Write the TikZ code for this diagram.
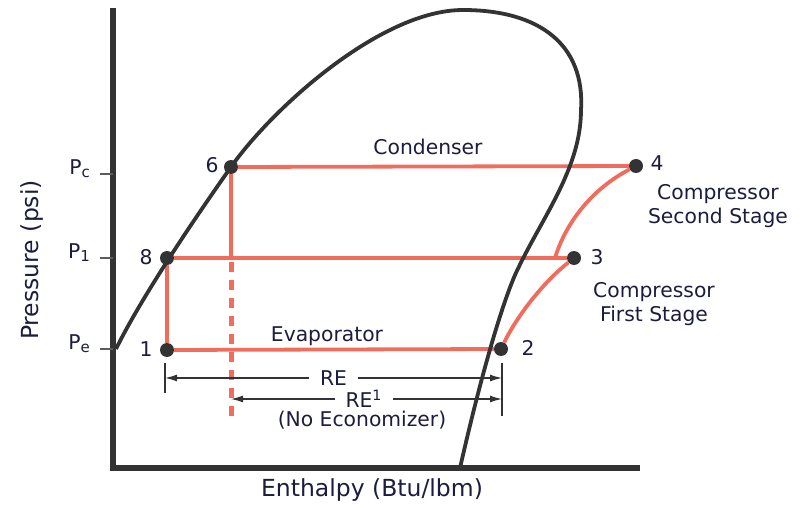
\documentclass[tikz,border=0pt]{standalone}
\usepackage{fontspec}
\setmainfont{DejaVu Sans}
\usetikzlibrary{arrows.meta}
\definecolor{cycred}{RGB}{240,108,92}
\definecolor{domegray}{RGB}{51,51,51}
\definecolor{labelnavy}{RGB}{28,28,64}
\newcommand{\psub}[1]{P\raisebox{-2.5pt}{\fontsize{15}{15}\selectfont #1}}
\begin{document}
\begin{tikzpicture}[x=1pt,y=-1pt,
    dot/.style={circle,fill=domegray,inner sep=0pt,minimum size=14pt},
    cyclepath/.style={cycred,line width=3.8pt},
    lbl/.style={text=labelnavy,font=\fontsize{20.3}{24}\selectfont,inner sep=0pt,align=center},
    axislbl/.style={text=labelnavy,font=\fontsize{23.5}{28}\selectfont,inner sep=0pt},
    dimline/.style={domegray,line width=1.2pt},
    tip/.style={{Latex[length=12pt,width=7pt]}-{Latex[length=12pt,width=7pt]}},
    gap/.style={fill=white,inner xsep=11pt,inner ysep=1pt}]
    \useasboundingbox (0,0) rectangle (804,505);
    % Define dimensions
    \def\axisx{113}
    \def\axisy{468}
    % Draw the axes
    \draw[domegray,line width=5.5pt] (\axisx,8) -- (\axisx,\axisy) -- (640,\axisy);
    \foreach \y/\t in {174/c,258/1,349/e}{
        \draw[domegray!80,line width=1.2pt] (100,\y) -- (\axisx,\y);
        \node[lbl,anchor=base east] (P\t) at (90,\y+1) {\psub{\t}};
    }
    \node[axislbl,rotate=90] (ylabel) at (32,260) {Pressure (psi)};
    \node[axislbl] (xlabel) at (372,490) {Enthalpy (Btu/lbm)};
    % State points
    \node[dot] (p1) at (167,350) {};
    \node[dot] (p2) at (501,349) {};
    \node[dot] (p3) at (574,258) {};
    \node[dot] (p4) at (636,166) {};
    \node[dot] (p6) at (231,167) {};
    \node[dot] (p8) at (167,258) {};
    \coordinate (junc) at (555,258);
    \coordinate (dashend) at (231,420);
    % Draw the cycle
    \draw[cyclepath] (p1) -- (p2);
    \draw[cyclepath] (p8) -- (p3);
    \draw[cyclepath] (p6) -- (p4);
    \draw[cyclepath] (p8) -- (p1);
    \draw[cyclepath] (p6) -- (p6 |- p8);
    \draw[cyclepath,line width=5pt,dash pattern=on 10pt off 8pt] (p6 |- p8) ++(0,4) -- (dashend);
    \draw[cyclepath] (p2) .. controls (515,320) and (540,285) .. (p3);
    \draw[cyclepath] (junc) .. controls (565,225) and (590,190) .. (p4);
    % Draw the saturation dome
    \draw[domegray,line width=3.8pt] (116,349)
        .. controls (140,300) and (190,225) .. (231,167)
        .. controls (271,110) and (380,10) .. (463,10)
        .. controls (540,10) and (585,45) .. (581,110)
        .. controls (581,170) and (540,220) .. (515,275)
        .. controls (500,310) and (480,380) .. (460,468);
    % Point labels
    \node[lbl] (n1) at (146,349) {1};
    \node[lbl] (n2) at (528,348) {2};
    \node[lbl] (n3) at (597,257) {3};
    \node[lbl] (n4) at (657,163) {4};
    \node[lbl] (n6) at (212,165) {6};
    \node[lbl] (n8) at (146,257) {8};
    \node[lbl] (cond) at (428,147) {Condenser};
    \node[lbl] (evap) at (327,336) {Evaporator};
    \node[lbl] (comp2) at (718,206) {Compressor\\Second Stage};
    \node[lbl] (comp1) at (654,304) {Compressor\\First Stage};
    % Refrigeration effect
    \coordinate (reL) at (165,378);
    \coordinate (reR) at (502,378);
    \coordinate (re1L) at (231,399);
    \coordinate (re1R) at (502,399);
    \draw[dimline] (165,363) -- (165,393);
    \draw[dimline] (502,363) -- (502,416);
    \draw[dimline,tip] (reL) -- node[lbl,gap] (re) {RE} (reR);
    \draw[dimline,tip] (re1L) -- node[lbl,gap,pos=0.49] (re1) {RE\textsuperscript{1}} (re1R);
    \node[lbl] (noecon) at (362,420) {(No Economizer)};
\end{tikzpicture}
\end{document}
